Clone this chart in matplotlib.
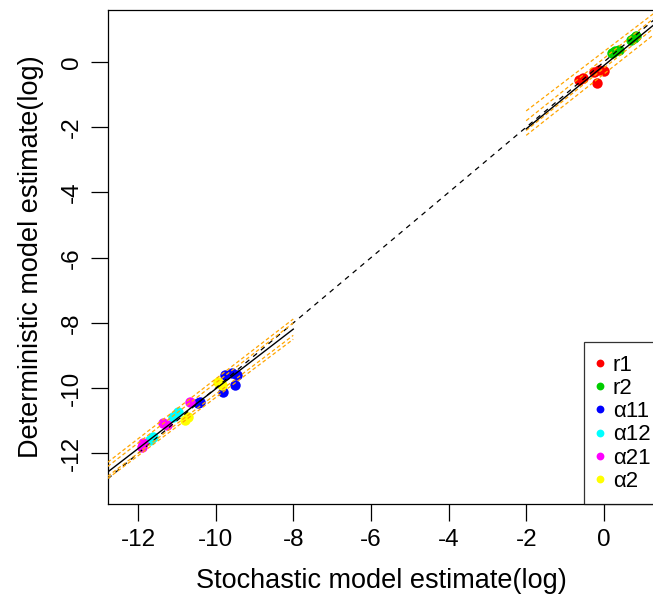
import numpy as np
import matplotlib
matplotlib.use('Agg')
import matplotlib.pyplot as plt

plt.rcParams['font.family'] = ['Liberation Sans', 'DejaVu Sans']

# parameter estimates (log), stochastic vs deterministic
r1_x = [-0.63, -0.53, -0.25, -0.12, 0.01, -0.17]
r1_y = [-0.55, -0.49, -0.31, -0.25, -0.28, -0.64]
r2_x = [0.22, 0.30, 0.38, 0.70, 0.78, 0.84]
r2_y = [0.28, 0.33, 0.38, 0.66, 0.74, 0.80]
a11_x = [-9.75, -9.57, -9.44, -9.50, -9.81, -10.40, -10.45]
a11_y = [-9.60, -9.54, -9.60, -9.91, -10.12, -10.43, -10.46]
a12_x = [-10.97, -11.10, -11.62, -11.69]
a12_y = [-10.74, -10.89, -11.50, -11.60]
a21_x = [-10.66, -11.36, -11.25, -11.87, -11.90]
a21_y = [-10.43, -11.07, -11.14, -11.69, -11.81]
a2_x = [-9.94, -9.83, -10.71, -10.79]
a2_y = [-9.82, -9.91, -10.89, -10.98]

labels = ['r1', 'r2', '\u03b111', '\u03b112', '\u03b121', '\u03b12']
colors = ['#FF0000', '#00CD00', '#0000FF', '#00FFFF', '#FF00FF', '#FFFF00']

# fitted lines (end points) for the two clusters
low_x = [-12.78, -8.0]
low_fit = [-12.57, -8.19]
low_bands = [[-12.27, -7.88], [-12.40, -8.00], [-12.70, -8.38], [-12.77, -8.50]]
up_x = [-2.0, 1.3]
up_fit = [-2.05, 1.15]
up_bands = [[-1.50, 1.50], [-1.80, 1.35], [-2.10, 1.05], [-2.25, 0.85]]

xlim = [-12.78, 1.30]
ylim = [-13.55, 1.593]
ticks = [-12, -10, -8, -6, -4, -2, 0]

fig = plt.figure(figsize=(6.53, 6.01), dpi=100)
ax = fig.add_axes([107.7/653, 97/601, 1 - 107.7/653 + 0.002, 494/601])

xs = [r1_x, r2_x, a11_x, a12_x, a21_x, a2_x]
ys = [r1_y, r2_y, a11_y, a12_y, a21_y, a2_y]
for x, y, c, l in zip(xs, ys, colors, labels):
    ax.plot(x, y, 'o', color=c, ms=7.5, mew=0, label=l, zorder=2)

# 1:1 line
ax.plot(xlim, xlim, color='black', lw=0.9, ls=(0, (4, 4)), zorder=3)

for bx, fit, bands in [(low_x, low_fit, low_bands), (up_x, up_fit, up_bands)]:
    for b in bands:
        ax.plot(bx, b, color='orange', lw=0.9, ls=(0, (3, 2)), zorder=3)
    ax.plot(bx, fit, color='black', lw=1.0, zorder=4)

ax.set_xlim(xlim)
ax.set_ylim(ylim)
ax.set_xticks(ticks)
ax.set_yticks(ticks)
ax.set_xticklabels([str(t) for t in ticks])
ax.set_yticklabels([str(t) for t in ticks], rotation=90, va='center')
ax.tick_params(axis='both', length=12, width=0.9, labelsize=17.5, pad=6)
for s in ax.spines.values():
    s.set_linewidth(0.9)

ax.set_xlabel('Stochastic model estimate(log)', fontsize=19.5, labelpad=12)
ax.set_ylabel('Deterministic model estimate(log)', fontsize=19.5, labelpad=12)

leg = ax.legend(loc='lower right', bbox_to_anchor=(1.015, 0.0), borderaxespad=0,
                fontsize=16, frameon=True, fancybox=False, edgecolor='black',
                handlelength=0.4, handletextpad=0.35, labelspacing=0.1,
                borderpad=0.55, markerscale=0.75)
leg.get_frame().set_linewidth(0.9)

plt.savefig('out.png', dpi=100)
